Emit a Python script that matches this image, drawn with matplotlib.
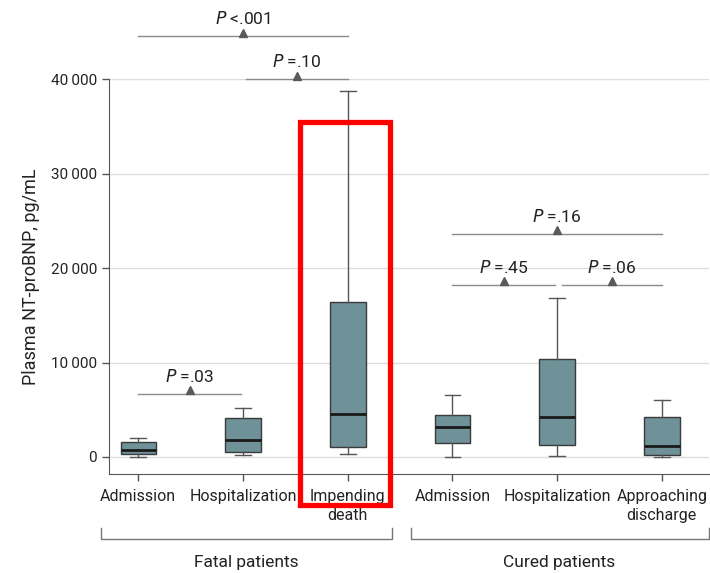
import matplotlib
matplotlib.use("Agg")
import matplotlib.pyplot as plt
from matplotlib.patches import Rectangle

plt.rcParams['font.family'] = ['Roboto', 'DejaVu Sans']

# box statistics (pg/mL)
labels = ["Admission", "Hospitalization", "Impending\ndeath",
          "Admission", "Hospitalization", "Approaching\ndischarge"]
whislo = [0, 200, 320, 0, 100, 0]
q1 = [300, 560, 1090, 1520, 1230, 250]
med = [740, 1830, 4550, 3210, 4230, 1200]
q3 = [1600, 4160, 16430, 4410, 10340, 4230]
whishi = [2000, 5150, 38700, 6560, 16790, 6000]

# significance brackets: (start, end, height, label)
comp_start = [0, 1.03, 0, 3, 3, 4.05]
comp_end = [2, 2, 0.98, 5, 3.98, 5]
comp_y = [44550, 40000, 6670, 23600, 18230, 18230]
comp_text = ["<.001", "=.10", "=.03", "=.16", "=.45", "=.06"]

groups = ["Fatal patients", "Cured patients"]

fig = plt.figure(figsize=(7.1, 5.73), dpi=100)
ax = fig.add_axes([0.1535, 0.1728, 0.845, 0.689])

stats = []
for i in range(len(labels)):
  stats.append({"whislo": whislo[i], "q1": q1[i], "med": med[i],
                "q3": q3[i], "whishi": whishi[i], "fliers": []})

pos = list(range(len(labels)))
ax.bxp(stats, positions=pos, widths=0.34, capwidths=0.15, patch_artist=True,
       showfliers=False,
       boxprops=dict(facecolor="#6f9198", edgecolor="#3a3a3a", linewidth=1),
       medianprops=dict(color="#1a1a1a", linewidth=2),
       whiskerprops=dict(color="#555555", linewidth=1),
       capprops=dict(color="#555555", linewidth=1))

for i in range(len(comp_text)):
  x0, x1, y = comp_start[i], comp_end[i], comp_y[i]
  ax.plot([x0, x1], [y, y], color="#8a8a8a", lw=1, clip_on=False, zorder=3)
  xm = (x0 + x1) / 2
  ax.plot([xm], [y + 380], marker="^", ms=6, color="#5a5a5a", clip_on=False, zorder=4)
  ax.text(xm, y + 1250, "$P$ " + comp_text[i], ha="center", va="baseline",
          fontsize=12.5, color="#222222", clip_on=False)

ax.set_xlim(-0.28, 5.45)
ax.set_ylim(-1800, 40000)
ax.set_yticks([0, 10000, 20000, 30000, 40000])
ax.set_yticklabels(["0", "10\u2009000", "20\u2009000", "30\u2009000", "40\u2009000"],
                   fontsize=11, color="#222222")
ax.set_xticks(pos)
ax.set_xticklabels(labels, fontsize=11.5, color="#222222", linespacing=1.3)
ax.tick_params(axis="both", length=5, color="#555555", width=1)
ax.tick_params(axis="x", pad=6)
ax.grid(axis="y", color="#dddddd", lw=1)
ax.set_axisbelow(True)
for s in ["top", "right"]:
  ax.spines[s].set_visible(False)
for s in ["left", "bottom"]:
  ax.spines[s].set_color("#555555")
ax.set_ylabel("Plasma NT-proBNP, pg/mL", fontsize=13, color="#222222", labelpad=8)

# group brackets below the axis
trans = ax.get_xaxis_transform()
brackets = [(-0.36, 2.42), (2.6, 5.45)]
for (b0, b1), name in zip(brackets, groups):
  ax.plot([b0, b0, b1, b1], [-0.136, -0.164, -0.164, -0.136], transform=trans,
          color="#777777", lw=1, clip_on=False)
  ax.text((b0 + b1) / 2 if b1 < 5 else 4.02, -0.225, name, transform=trans,
          ha="center", va="center", fontsize=12.5, color="#222222")

# red highlight box around the impending death group
ax.add_patch(Rectangle((1.54, -5080), 0.86, 35450 + 5080, fill=False,
                       edgecolor="red", lw=3.8, clip_on=False, zorder=5))

fig.savefig("out.png", dpi=100)
